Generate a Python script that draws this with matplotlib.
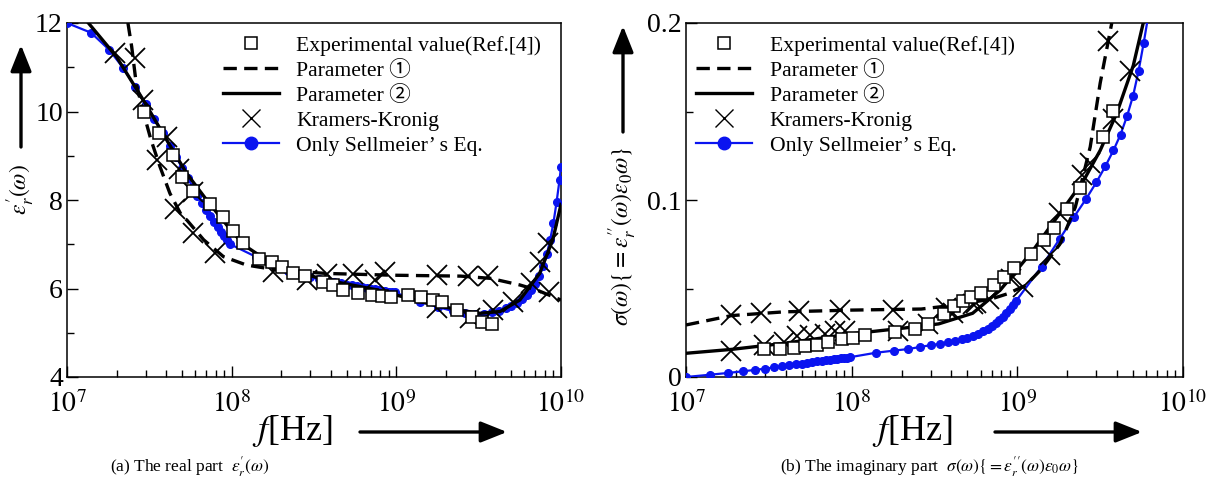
import numpy as np
import matplotlib
matplotlib.use("Agg")
import matplotlib.pyplot as plt
from matplotlib.font_manager import FontProperties
from matplotlib.lines import Line2D
from matplotlib.patches import FancyArrowPatch

plt.rcParams['font.family'] = ['Liberation Serif', 'Noto Sans CJK JP', 'DejaVu Sans']
plt.rcParams['mathtext.fontset'] = 'stix'

# ---------------- data (log10 of frequency in Hz) ----------------
# Sellmeier sampling frequencies
sell_logf = [7.000, 7.146, 7.255, 7.342, 7.415, 7.477, 7.531, 7.580, 7.623, 7.663, 7.699, 7.732,
             7.763, 7.792, 7.820, 7.845, 7.869, 7.892, 7.914, 7.934, 7.954, 7.973, 7.991,
             8.146, 8.255, 8.342, 8.415, 8.477, 8.531, 8.580, 8.623, 8.663, 8.699, 8.732,
             8.763, 8.792, 8.820, 8.845, 8.869, 8.892, 8.914, 8.934, 8.954, 8.973, 8.991,
             9.146, 9.255, 9.342, 9.415, 9.477, 9.531, 9.580, 9.623, 9.663, 9.699, 9.732,
             9.763, 9.792, 9.820, 9.845, 9.869, 9.892, 9.914, 9.934, 9.954, 9.973, 9.991, 10.0]
sell_real = [12.00, 11.78, 11.40, 10.98, 10.55, 10.18, 9.84, 9.52, 9.23, 8.97, 8.73, 8.50,
             8.30, 8.10, 7.93, 7.78, 7.64, 7.51, 7.39, 7.28, 7.18, 7.09, 7.00,
             6.72, 6.52, 6.40, 6.32, 6.26, 6.22, 6.19, 6.15, 6.12, 6.09, 6.07,
             6.05, 6.03, 6.01, 5.99, 5.98, 5.96, 5.95, 5.94, 5.93, 5.92, 5.91,
             5.70, 5.58, 5.49, 5.45, 5.43, 5.43, 5.46, 5.50, 5.55, 5.61, 5.68,
             5.76, 5.85, 5.96, 6.10, 6.28, 6.50, 6.78, 7.10, 7.48, 7.95, 8.45, 8.75]
sell_imag_logf = sell_logf[:58]
sell_imag = [0.0000, 0.0013, 0.0023, 0.0032, 0.0040, 0.0047, 0.0054, 0.0060, 0.0066, 0.0071, 0.0076, 0.0080,
             0.0084, 0.0088, 0.0091, 0.0094, 0.0097, 0.0100, 0.0102, 0.0105, 0.0107, 0.0110, 0.0112,
             0.0137, 0.0149, 0.0158, 0.0170, 0.0180, 0.0187, 0.0195, 0.0203, 0.0212, 0.0222, 0.0233,
             0.0245, 0.0258, 0.0272, 0.0288, 0.0305, 0.0322, 0.0340, 0.0360, 0.0383, 0.0405, 0.0428,
             0.0623, 0.0780, 0.0904, 0.1006, 0.1100, 0.1190, 0.1280, 0.1370, 0.1476, 0.1590, 0.1730,
             0.1889, 0.2050]

# Experimental values (Ref.[4])
exp_real_logf = [7.468, 7.56, 7.645, 7.70, 7.767, 7.866, 7.945, 8.01, 8.067, 8.168, 8.243, 8.303,
                 8.374, 8.445, 8.557, 8.617, 8.678, 8.769, 8.85, 8.91, 8.97, 9.072, 9.149, 9.22,
                 9.275, 9.37, 9.457, 9.518, 9.579]
exp_real = [10.0, 9.51, 9.02, 8.53, 8.21, 7.90, 7.62, 7.30, 7.02, 6.66, 6.61, 6.49,
            6.36, 6.28, 6.15, 6.08, 5.97, 5.89, 5.85, 5.83, 5.81, 5.85, 5.80, 5.75,
            5.70, 5.51, 5.35, 5.25, 5.20]
exp_imag_logf = [7.47, 7.57, 7.65, 7.72, 7.79, 7.86, 7.94, 8.01, 8.08, 8.26, 8.38, 8.46, 8.56,
                 8.62, 8.67, 8.72, 8.78, 8.86, 8.92, 8.98, 9.08, 9.16, 9.22, 9.30, 9.38, 9.52, 9.58]
exp_imag = [0.0157, 0.0158, 0.0165, 0.0174, 0.0183, 0.0197, 0.0212, 0.0218, 0.0237, 0.0254, 0.0270,
            0.0298, 0.0355, 0.0400, 0.0431, 0.0450, 0.0474, 0.0520, 0.0567, 0.0616, 0.0695, 0.0774,
            0.0842, 0.0950, 0.1068, 0.1358, 0.1505]

# Parameter 1 (dashed)
p1_real_logf = [7.37, 7.393, 7.42, 7.46, 7.51, 7.565, 7.625, 7.70, 7.727, 7.83, 7.95, 8.09, 8.273,
                8.577, 8.98, 9.39, 9.57, 9.75, 9.85, 10.0]
p1_real = [12.0, 11.46, 10.64, 10.03, 9.36, 8.75, 8.15, 7.62, 7.55, 7.10, 6.72, 6.53, 6.42,
           6.34, 6.30, 6.28, 6.23, 6.08, 5.97, 5.74]
p1_imag_logf = [7.0, 7.275, 7.59, 8.0, 8.42, 8.63, 8.84, 8.94, 9.05, 9.14, 9.26, 9.35, 9.39,
                9.44, 9.50, 9.57]
p1_imag = [0.0294, 0.0347, 0.0368, 0.0378, 0.0384, 0.0407, 0.0440, 0.0470, 0.0517, 0.0604,
           0.0755, 0.0960, 0.1110, 0.1300, 0.1660, 0.2000]

# Parameter 2 (solid)
p2_real_logf = [7.13, 7.30, 7.463, 7.605, 7.727, 7.848, 8.01, 8.091, 8.273, 8.577, 8.88, 9.184,
                9.386, 9.508, 9.63, 9.75, 9.87, 9.95, 10.0]
p2_real = [12.0, 11.24, 10.26, 9.36, 8.60, 8.0, 7.25, 6.94, 6.49, 6.19, 5.97, 5.67,
           5.51, 5.44, 5.48, 5.74, 6.34, 7.10, 7.90]
p2_imag_logf = [7.0, 7.275, 7.59, 8.0, 8.32, 8.525, 8.73, 8.897, 8.996, 9.096, 9.197, 9.30,
                9.40, 9.50, 9.60, 9.70, 9.76]
p2_imag = [0.0134, 0.0156, 0.0190, 0.0244, 0.0277, 0.0300, 0.0360, 0.0491, 0.0604, 0.0717,
           0.0848, 0.0980, 0.1110, 0.1280, 0.1490, 0.1760, 0.2000]

# Kramers-Kronig
kk_real_logf = [7.29, 7.413, 7.463, 7.545, 7.605, 7.655, 7.682, 7.767, 7.767, 7.899, 8.253,
                8.455, 8.577, 8.739, 8.87, 8.93, 9.245, 9.245, 9.437, 9.447, 9.558, 9.589,
                9.71, 9.82, 9.87, 9.922, 9.93]
kk_real = [11.32, 11.20, 10.26, 8.90, 9.43, 7.80, 8.71, 8.19, 7.26, 6.80, 6.38,
           6.19, 6.33, 6.33, 6.19, 6.38, 5.55, 6.30, 6.28, 5.33, 6.28, 5.51,
           5.70, 6.12, 6.61, 7.02, 5.93]
kk_imag_logf = [7.27, 7.45, 7.68, 7.93, 8.25, 8.57, 8.75, 9.035, 9.20, 9.39, 9.547,
                7.27, 7.47, 7.59, 7.67, 7.75, 7.84, 7.90, 7.96, 8.28, 8.46, 8.61, 8.73,
                8.83, 8.96, 9.25, 9.44, 9.58, 9.68]
kk_imag = [0.0353, 0.0363, 0.0372, 0.0378, 0.0378, 0.0390, 0.0416, 0.0510, 0.0690, 0.1140, 0.1900,
           0.0149, 0.0181, 0.0200, 0.0230, 0.0240, 0.0244, 0.0260, 0.0260, 0.0260, 0.0298, 0.0360,
           0.0410, 0.0440, 0.0553, 0.0925, 0.1210, 0.1460, 0.1730]

xtick_vals = [1e7, 1e8, 1e9, 1e10]
xtick_labels = ['$10^{7}$', '$10^{8}$', '$10^{9}$', '$10^{10}$']
legend_labels = ['Experimental value(Ref.[4])', 'Parameter \u2460', 'Parameter \u2461',
                 'Kramers-Kronig', 'Only Sellmeier\u2019 s Eq.']

# ---------------- figure ----------------
W, H = 1223, 488
fig = plt.figure(figsize=(W / 100, H / 100), dpi=100)

def px_rect(x0, x1, y0, y1):
    return [x0 / W, 1 - y1 / H, (x1 - x0) / W, (y1 - y0) / H]

axL = fig.add_axes(px_rect(67, 561, 23, 377))
axR = fig.add_axes(px_rect(686, 1183, 23, 377))

blue = '#0a14f0'

def f(lst):
    return 10 ** np.asarray(lst)

def draw(ax, exp_x, exp_y, p1x, p1y, p2x, p2y, kkx, kky, sx, sy):
    ax.plot(f(sx), sy, '-', color=blue, lw=1.6, marker='o', ms=5.5, zorder=3)
    ax.plot(f(p1x), p1y, '--', color='black', lw=2.4, dashes=(4, 2.2), zorder=4)
    ax.plot(f(p2x), p2y, '-', color='black', lw=2.4, zorder=4)
    ax.plot(f(kkx), kky, 'x', color='black', ms=15, mew=1.3, zorder=5)
    ax.plot(f(exp_x), exp_y, 's', mfc='white', mec='black', ms=8, mew=1.1, zorder=6)
    ax.set_xscale('log')
    ax.set_xlim(1e7, 1e10)
    ax.set_xticks(xtick_vals)
    ax.set_xticklabels(xtick_labels)
    ax.tick_params(which='both', direction='in', top=False, right=False, labelsize=20)
    ax.tick_params(which='major', length=8, width=1)
    ax.tick_params(which='minor', length=5, width=1)
    ax.tick_params(axis='x', pad=10)
    ax.tick_params(axis='y', pad=3)
    for s in ax.spines.values():
        s.set_linewidth(1.1)

draw(axL, exp_real_logf, exp_real, p1_real_logf, p1_real, p2_real_logf, p2_real,
     kk_real_logf, kk_real, sell_logf, sell_real)
axL.set_ylim(4, 12)
axL.set_yticks([4, 6, 8, 10, 12])
axL.set_yticks([5, 7, 9, 11], minor=True)

draw(axR, exp_imag_logf, exp_imag, p1_imag_logf, p1_imag, p2_imag_logf, p2_imag,
     kk_imag_logf, kk_imag, sell_imag_logf, sell_imag)
axR.set_ylim(0, 0.2)
axR.set_yticks([0, 0.1, 0.2])
axR.set_yticklabels(['0', '0.1', '0.2'])
axR.set_yticks([0.05, 0.15], minor=True)

# legends
handles = [
    Line2D([], [], ls='none', marker='s', mfc='white', mec='black', ms=8, mew=1.1),
    Line2D([], [], ls='--', color='black', lw=2.4, dashes=(4, 2.2)),
    Line2D([], [], ls='-', color='black', lw=2.4),
    Line2D([], [], ls='none', marker='x', color='black', ms=13, mew=1.0),
    Line2D([], [], ls='-', color=blue, lw=1.6, marker='o', ms=9),
]
lprop = FontProperties(family=['Liberation Serif', 'Noto Sans CJK JP', 'DejaVu Sans'], size=15.6)
for ax, xa in ((axL, 0.30), (axR, 0.005)):
    ax.legend(handles, legend_labels, loc='upper left', bbox_to_anchor=(xa, 0.985),
              frameon=False, prop=lprop, handlelength=2.6, handletextpad=0.8,
              labelspacing=0.22, borderpad=0.2, borderaxespad=0.15)

# axis labels and arrows (figure pixel coordinates)
def fx(px):
    return px / W

def fy(py):
    return 1 - py / H

def arrow(p0, p1):
    fig.add_artist(FancyArrowPatch((fx(p0[0]), fy(p0[1])), (fx(p1[0]), fy(p1[1])),
                                   transform=fig.transFigure,
                                   arrowstyle='-|>,head_length=1.0,head_width=0.4',
                                   mutation_scale=16, color='black', lw=2.4,
                                   shrinkA=0, shrinkB=0))

fig.text(fx(21), fy(190), r"$\varepsilon_r^{\prime}(\omega)$", rotation=90, ha='center',
         va='center', fontsize=17)
arrow((21, 147), (21, 45))

fig.text(fx(623), fy(236), r"$\sigma(\omega)\{=\varepsilon_r^{\prime\prime}(\omega)\varepsilon_0\omega\}$",
         rotation=90, ha='center', va='center', fontsize=17)
arrow((623, 132), (623, 26))

for cx, a0, a1 in ((292, 360, 507), (912, 995, 1142)):
    fig.text(fx(cx), fy(431), r"$f$[Hz]", ha='center', va='center', fontsize=26)
    arrow((a0, 432), (a1, 432))

fig.text(fx(190), fy(467), r"(a) The real part  $\varepsilon_r^{\prime}(\omega)$", ha='center',
         va='center', fontsize=12.5)
fig.text(fx(930), fy(467),
         r"(b) The imaginary part  $\sigma(\omega)\{=\varepsilon_r^{\prime\prime}(\omega)\varepsilon_0\omega\}$",
         ha='center', va='center', fontsize=12.5)

fig.savefig('out.png', dpi=100)
